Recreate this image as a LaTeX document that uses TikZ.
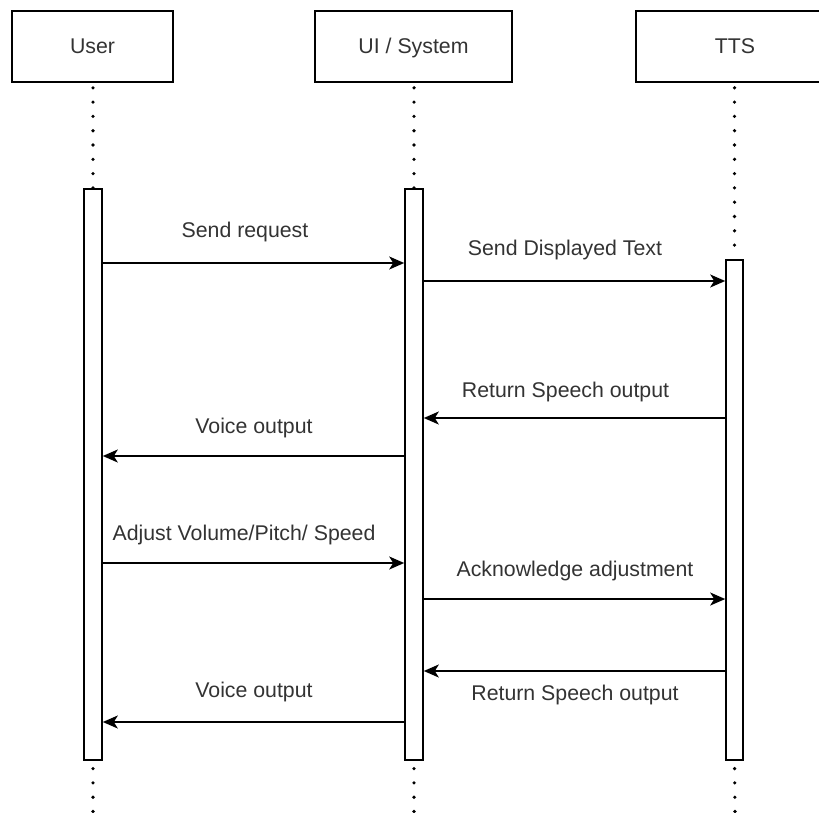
\documentclass[tikz,border=0pt]{standalone}
\usepackage{fontspec}
\setmainfont{Liberation Sans}
\usetikzlibrary{arrows.meta}
\tikzset{
  actor/.style={draw=black, line width=1.8pt, fill=white, minimum width=161pt, minimum height=71pt,
    inner sep=0pt, anchor=north, font=\fontsize{21.3}{25}\selectfont, text=black!80,
    text height=15pt, text depth=0pt},
  actbar/.style={draw=black, line width=1.6pt, fill=white, minimum width=18pt, inner sep=0pt, anchor=north},
  lifeline/.style={line width=3.6pt, line cap=round, dash pattern=on 0pt off 14.3pt},
  msg/.style={line width=1.8pt, -{Stealth[length=15pt, width=13pt, inset=4pt]}},
  msglabel/.style={font=\fontsize{21.3}{25}\selectfont, text=black!80, inner sep=0pt}
}
\begin{document}
\begin{tikzpicture}[x=1pt, y=-1pt]
  \useasboundingbox (0,0) rectangle (819,812);
  \clip (0,0) rectangle (819,812);
  \fill[white] (0,0) rectangle (819,812);

  % participant heads
  \node[actor] (user) at (92.5,10) {User};
  \node[actor, minimum width=197pt] (sys) at (413.5,10) {UI / System};
  \node[actor, minimum width=198pt] (tts) at (735,10) {TTS};

  % lifeline ends at the bottom edge
  \coordinate (userend) at (93,812);
  \coordinate (sysend) at (414,812);
  \coordinate (ttsend) at (735,812);

  % activation bars (positioned first so lifelines can refer to them)
  \path (93,188) node[actbar, minimum height=571pt] (ubar) {};
  \path (414,188) node[actbar, minimum height=571pt] (sbar) {};
  \path (734.5,259) node[actbar, minimum width=17pt, minimum height=500pt] (tbar) {};

  % dotted lifelines
  \draw[lifeline, dash phase=9.3pt] (user.south -| ubar.north) -- (ubar.north);
  \draw[lifeline, dash phase=9.3pt] (sys.south -| sbar.north) -- (sbar.north);
  \draw[lifeline, dash phase=9.3pt] (tts.south -| tbar.north) -- (tbar.north);
  \draw[lifeline, dash phase=6.3pt] (ubar.south) -- (userend);
  \draw[lifeline, dash phase=6.3pt] (sbar.south) -- (sysend);
  \draw[lifeline, dash phase=6.3pt] (tbar.south) -- (ttsend);

  % redraw bars on top of the dotted lines
  \path (93,188) node[actbar, minimum height=571pt] {};
  \path (414,188) node[actbar, minimum height=571pt] {};
  \path (734.5,259) node[actbar, minimum width=17pt, minimum height=500pt] {};

  % messages
  \draw[msg] (ubar.east |- 0,263) -- (sbar.west |- 0,263);
  \node[msglabel] (m1) at (245,232) {Send request};

  \draw[msg] (sbar.east |- 0,281) -- (tbar.west |- 0,281);
  \node[msglabel] (m2) at (565,250) {Send Displayed Text};

  \draw[msg] (tbar.west |- 0,418) -- (sbar.east |- 0,418);
  \node[msglabel] (m3) at (565.5,392) {Return Speech output};

  \draw[msg] (sbar.west |- 0,456) -- (ubar.east |- 0,456);
  \node[msglabel] (m4) at (254,428) {Voice output};

  \draw[msg] (ubar.east |- 0,563) -- (sbar.west |- 0,563);
  \node[msglabel] (m5) at (244,535) {Adjust Volume/Pitch/ Speed};

  \draw[msg] (sbar.east |- 0,599) -- (tbar.west |- 0,599);
  \node[msglabel] (m6) at (575,571) {Acknowledge adjustment};

  \draw[msg] (tbar.west |- 0,671) -- (sbar.east |- 0,671);
  \node[msglabel] (m7) at (575,695) {Return Speech output};

  \draw[msg] (sbar.west |- 0,722) -- (ubar.east |- 0,722);
  \node[msglabel] (m8) at (254,692) {Voice output};
\end{tikzpicture}
\end{document}
